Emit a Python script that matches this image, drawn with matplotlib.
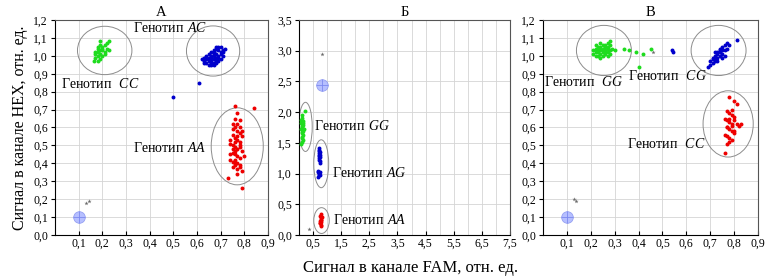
import matplotlib
matplotlib.use('Agg')
import matplotlib.pyplot as plt
from matplotlib.patches import Ellipse
from matplotlib.ticker import FuncFormatter, MultipleLocator

plt.rcParams['font.family'] = ['Liberation Serif', 'DejaVu Serif']
plt.rcParams['mathtext.fontset'] = 'custom'
plt.rcParams['mathtext.rm'] = 'Liberation Serif'
plt.rcParams['mathtext.it'] = 'Liberation Serif:italic'

# ---- panel А ----
green_a_x = [0.17, 0.18, 0.19, 0.20, 0.21, 0.22, 0.23, 0.18, 0.19, 0.20,
             0.21, 0.17, 0.18, 0.19, 0.20, 0.22, 0.19, 0.18, 0.20, 0.21,
             0.17, 0.165, 0.23, 0.19, 0.18]
green_a_y = [1.02, 1.05, 1.08, 1.03, 1.06, 1.07, 1.08, 1.00, 1.01, 1.04,
             1.02, 0.99, 0.97, 1.03, 1.00, 1.04, 1.06, 1.02, 1.05, 1.01,
             1.01, 0.97, 1.03, 0.98, 1.04]
blue_a_x = [0.62, 0.63, 0.63, 0.64, 0.64, 0.65, 0.65, 0.65, 0.66,
            0.66, 0.66, 0.66, 0.67, 0.67, 0.67, 0.67, 0.68, 0.68,
            0.68, 0.68, 0.69, 0.69, 0.69, 0.70, 0.70, 0.70, 0.71,
            0.71, 0.72, 0.64, 0.65, 0.66, 0.67, 0.68, 0.69, 0.70,
            0.66, 0.67, 0.68, 0.69, 0.63, 0.71, 0.68, 0.67, 0.65,
            0.61, 0.50]
blue_a_y = [0.98, 0.97, 0.99, 0.96, 1.00, 0.95, 0.98, 1.01, 0.96,
            0.99, 1.02, 0.97, 0.95, 0.98, 1.00, 1.03, 0.96, 0.99,
            1.01, 1.04, 0.97, 1.00, 1.03, 0.98, 1.01, 1.05, 1.00,
            1.03, 1.04, 0.98, 0.97, 1.00, 1.02, 0.97, 0.99, 1.02,
            0.95, 0.96, 1.05, 1.05, 0.96, 1.02, 0.98, 1.01, 0.99,
            0.85, 0.77]
red_a_x = [0.76, 0.77, 0.78, 0.75, 0.76, 0.77, 0.78, 0.79, 0.75, 0.76,
           0.77, 0.78, 0.74, 0.75, 0.76, 0.77, 0.78, 0.79, 0.75, 0.76,
           0.77, 0.78, 0.74, 0.75, 0.76, 0.77, 0.78, 0.75, 0.76, 0.77,
           0.78, 0.79, 0.74, 0.75, 0.76, 0.77, 0.78, 0.76, 0.77, 0.80,
           0.84, 0.79, 0.73, 0.77, 0.75, 0.76, 0.79, 0.78, 0.74, 0.76]
red_a_y = [0.72, 0.68, 0.64, 0.62, 0.60, 0.58, 0.57, 0.55, 0.56, 0.54,
           0.53, 0.52, 0.51, 0.50, 0.49, 0.48, 0.50, 0.47, 0.46, 0.45,
           0.44, 0.43, 0.42, 0.41, 0.42, 0.40, 0.39, 0.38, 0.40, 0.37,
           0.38, 0.36, 0.45, 0.48, 0.52, 0.55, 0.60, 0.65, 0.62, 0.44,
           0.71, 0.26, 0.32, 0.34, 0.59, 0.47, 0.58, 0.49, 0.53, 0.39]
gray_a_x = [0.13, 0.145]
gray_a_y = [0.18, 0.19]
ntc_a = (0.10, 0.10)

# ---- panel Б ----
green_b_x = [0.10, 0.12, 0.08, 0.15, 0.10, 0.13, 0.07, 0.11, 0.14, 0.09,
             0.12, 0.10, 0.16, 0.08, 0.13, 0.11, 0.09, 0.14, 0.12, 0.10,
             0.15, 0.20, 0.06, 0.11]
green_b_y = [1.95, 1.90, 1.88, 1.86, 1.84, 1.83, 1.82, 1.80, 1.79, 1.78,
             1.76, 1.75, 1.73, 1.72, 1.70, 1.68, 1.66, 1.63, 1.60, 1.58,
             1.55, 2.02, 1.48, 1.52]
blue_b_x = [0.70, 0.72, 0.74, 0.71, 0.73, 0.70, 0.75, 0.72, 0.71, 0.74,
            0.73, 0.70, 0.72, 0.66, 0.68, 0.72, 0.75, 0.70, 0.67, 0.73]
blue_b_y = [1.42, 1.38, 1.35, 1.33, 1.30, 1.28, 1.27, 1.25, 1.22, 1.20,
            1.18, 1.36, 1.31, 1.05, 1.02, 1.00, 1.03, 0.97, 0.95, 0.98]
red_b_x = [0.78, 0.76, 0.80, 0.77, 0.79, 0.75, 0.78, 0.76, 0.79, 0.77, 0.74, 0.78]
red_b_y = [0.35, 0.31, 0.29, 0.27, 0.25, 0.23, 0.21, 0.19, 0.17, 0.15, 0.20, 0.24]
gray_b_x = [0.80, 0.35]
gray_b_y = [2.95, 0.09]
ntc_b = (0.83, 2.45)

# ---- panel В ----
green_c_x = [0.21, 0.22, 0.23, 0.24, 0.25, 0.26, 0.27, 0.28,
             0.22, 0.23, 0.24, 0.25, 0.26, 0.27, 0.28, 0.29,
             0.21, 0.22, 0.23, 0.24, 0.25, 0.26, 0.27,
             0.23, 0.24, 0.25, 0.26, 0.27, 0.28,
             0.22, 0.24, 0.26, 0.28, 0.25, 0.27,
             0.30, 0.34, 0.36, 0.39, 0.42, 0.45, 0.40]
green_c_y = [1.01, 1.00, 1.02, 1.01, 1.03, 1.02, 1.04, 1.03,
             1.04, 1.05, 1.03, 1.06, 1.05, 1.07, 1.06, 1.04,
             1.03, 1.02, 1.00, 0.99, 1.00, 1.01, 1.02,
             1.03, 1.05, 1.04, 1.03, 1.05, 1.08,
             1.06, 1.07, 1.06, 1.01, 1.02, 1.00,
             1.03, 1.04, 1.03, 1.02, 1.01, 1.04, 0.94]
blue_c_x = [0.69, 0.70, 0.70, 0.71, 0.71, 0.72, 0.72, 0.72, 0.73, 0.73, 0.73,
            0.74, 0.74, 0.74, 0.75, 0.75, 0.75, 0.76, 0.76, 0.77, 0.77, 0.78,
            0.71, 0.73, 0.74, 0.76, 0.72, 0.75,
            0.81, 0.54, 0.545]
blue_c_y = [0.94, 0.95, 0.97, 0.96, 0.98, 0.97, 0.99, 1.00, 0.99, 1.01, 1.02,
            1.00, 1.02, 1.04, 1.01, 1.03, 1.05, 1.03, 1.06, 1.04, 1.07, 1.06,
            0.99, 0.97, 1.03, 1.00, 1.02, 0.99,
            1.09, 1.03, 1.02]
red_c_x = [0.78, 0.80, 0.81, 0.79, 0.77, 0.78, 0.79, 0.80, 0.76, 0.77,
           0.78, 0.79, 0.80, 0.81, 0.82, 0.77, 0.78, 0.79, 0.80, 0.76,
           0.77, 0.78, 0.79, 0.80, 0.78, 0.77, 0.79, 0.78, 0.77, 0.83, 0.76]
red_c_y = [0.77, 0.75, 0.73, 0.70, 0.69, 0.68, 0.67, 0.66, 0.65, 0.64,
           0.63, 0.62, 0.64, 0.62, 0.61, 0.60, 0.59, 0.58, 0.57, 0.56,
           0.55, 0.54, 0.53, 0.58, 0.52, 0.51, 0.61, 0.65, 0.60, 0.62, 0.46]
gray_c_x = [0.46, 0.13, 0.14]
gray_c_y = [1.02, 0.20, 0.19]
ntc_c = (0.10, 0.10)

GREEN = '#1edc1e'
BLUE = '#0000cc'
RED = '#ee0000'

fig = plt.figure(figsize=(7.68, 2.78), dpi=100)
axA = fig.add_axes([55/768, 43/278, 213/768, 215/278])
axB = fig.add_axes([299/768, 43/278, 211/768, 215/278])
axC = fig.add_axes([543/768, 43/278, 215/768, 215/278])

comma = FuncFormatter(lambda v, p: ('%.1f' % v).replace('.', ','))


def style(ax, xlim, ylim, xticks, ystep, title):
    ax.set_xlim(*xlim)
    ax.set_ylim(*ylim)
    ax.set_xticks(xticks)
    ax.yaxis.set_major_locator(MultipleLocator(ystep))
    ax.xaxis.set_major_formatter(comma)
    ax.yaxis.set_major_formatter(comma)
    ax.grid(True, color='#d4d4d4', lw=0.6)
    ax.set_axisbelow(True)
    ax.tick_params(axis='both', labelsize=8.5, length=3, width=0.8, pad=2)
    ax.tick_params(axis='x', direction='in')
    for s in ax.spines.values():
        s.set_linewidth(0.8)
    for s in ('top', 'right'):
        ax.spines[s].set_color('#555555')
    ax.set_title(title, fontsize=10.5, pad=3)


def clusters(ax, groups, gx, gy, ntc, ms=8):
    for xs, ys, c in groups:
        ax.scatter(xs, ys, s=ms, color=c, lw=0, zorder=3)
    ax.scatter(gx, gy, s=10, marker='*', color='#6a6a6a', lw=0, zorder=3)
    ax.scatter([ntc[0]], [ntc[1]], s=70, color='#aab4ff', edgecolor='#8a96f0',
               lw=0.6, alpha=0.85, zorder=3)
    ax.scatter([ntc[0]], [ntc[1]], s=70, marker='+', color='#7d8af0', lw=0.6, zorder=4)


def ring(ax, cx, cy, w, h):
    ax.add_patch(Ellipse((cx, cy), w, h, fill=False, ec='#8c8c8c', lw=0.7, zorder=2))


def label(g, wide=False):
    gap = '\\ \\ \\,' if wide else '\\ \\,'
    return '$\\mathrm{Генотип}' + gap + '\\mathit{' + g + '}$'


fs = 10

# А
style(axA, (0, 0.9), (0, 1.2), [0.1, 0.2, 0.3, 0.4, 0.5, 0.6, 0.7, 0.8, 0.9], 0.1, 'А')
clusters(axA, [(green_a_x, green_a_y, GREEN), (blue_a_x, blue_a_y, BLUE),
               (red_a_x, red_a_y, RED)], gray_a_x, gray_a_y, ntc_a)
ring(axA, 0.21, 1.03, 0.23, 0.27)
ring(axA, 0.668, 1.027, 0.225, 0.28)
ring(axA, 0.77, 0.495, 0.22, 0.43)
axA.text(0.485, 1.155, label('AC'), fontsize=fs, ha='center', va='center')
axA.text(0.19, 0.84, label('CC', True), fontsize=fs, ha='center', va='center')
axA.text(0.485, 0.485, label('AA'), fontsize=fs, ha='center', va='center')
axA.set_ylabel('Сигнал в канале HEX, отн. ед.', fontsize=11.5, labelpad=4)

# Б
style(axB, (0, 7.5), (0, 3.5), [0.5, 1.5, 2.5, 3.5, 4.5, 5.5, 6.5, 7.5], 0.5, 'Б')
axB.xaxis.set_minor_locator(MultipleLocator(1.0))
axB.grid(True, which='minor', axis='x', color='#d4d4d4', lw=0.6)
axB.tick_params(axis='x', which='minor', length=0)
clusters(axB, [(green_b_x, green_b_y, GREEN), (blue_b_x, blue_b_y, BLUE),
               (red_b_x, red_b_y, RED)], gray_b_x, gray_b_y, ntc_b)
ring(axB, 0.23, 1.76, 0.48, 0.80)
ring(axB, 0.79, 1.16, 0.53, 0.78)
ring(axB, 0.80, 0.235, 0.55, 0.42)
axB.text(0.55, 1.77, label('GG'), fontsize=fs, ha='left', va='center')
axB.text(1.16, 1.01, label('AG'), fontsize=fs, ha='left', va='center')
axB.text(1.2, 0.25, label('AA'), fontsize=fs, ha='left', va='center')

# В
style(axC, (0, 0.9), (0, 1.2), [0.1, 0.2, 0.3, 0.4, 0.5, 0.6, 0.7, 0.8, 0.9], 0.1, 'В')
clusters(axC, [(green_c_x, green_c_y, GREEN), (blue_c_x, blue_c_y, BLUE),
               (red_c_x, red_c_y, RED)], gray_c_x, gray_c_y, ntc_c)
ring(axC, 0.255, 1.03, 0.23, 0.28)
ring(axC, 0.735, 1.03, 0.23, 0.28)
ring(axC, 0.775, 0.62, 0.21, 0.37)
axC.text(0.17, 0.855, label('GG', True), fontsize=fs, ha='center', va='center')
axC.text(0.52, 0.89, label('CG', True), fontsize=fs, ha='center', va='center')
axC.text(0.515, 0.51, label('CC', True), fontsize=fs, ha='center', va='center')

fig.text(0.534, 0.036, 'Сигнал в канале FAM, отн. ед.', fontsize=12, ha='center', va='center')

fig.savefig('out.png', dpi=100)
